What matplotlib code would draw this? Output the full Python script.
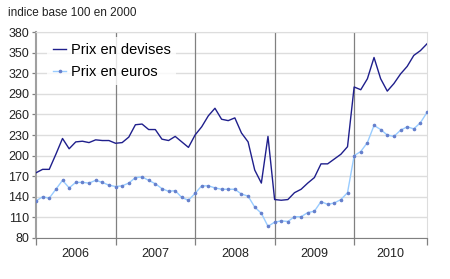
import matplotlib
matplotlib.use("Agg")
import matplotlib.pyplot as plt
import numpy as np

plt.rcParams['font.family'] = ['Liberation Sans', 'DejaVu Sans']

years = ['2006', '2007', '2008', '2009', '2010']
yticks = [80, 110, 140, 170, 200, 230, 260, 290, 320, 350, 380]

# monthly index, Jan 2006 - Dec 2010
devises = [175, 180, 180, 202, 225, 210, 220, 221, 219, 223, 222, 222,
           218, 219, 227, 245, 246, 238, 238, 224, 222, 228, 220, 212,
           230, 242, 258, 269, 253, 251, 255, 233, 220, 179, 160, 228,
           136, 135, 136, 146, 151, 160, 168, 188, 188, 195, 202, 213,
           300, 296, 312, 343, 312, 294, 305, 319, 330, 346, 353, 363]
euros = [134, 140, 138, 151, 164, 153, 161, 161, 160, 164, 161, 157,
         155, 156, 160, 168, 169, 164, 159, 152, 148, 149, 139, 135,
         145, 156, 156, 153, 151, 151, 151, 144, 141, 125, 116, 97,
         103, 105, 104, 111, 111, 117, 119, 133, 129, 131, 136, 146,
         200, 206, 219, 244, 238, 230, 228, 237, 242, 239, 248, 263]

x = np.arange(len(devises))

fig = plt.figure(figsize=(4.5, 2.79), dpi=100)
ax = fig.add_axes([0.08, 0.147, 0.869, 0.738])

ax.set_axisbelow(True)
ax.yaxis.grid(True, color='#dddddd', linewidth=1)
for k in range(1, len(years)):
    ax.axvline(12 * k, color='#808080', linewidth=0.9, zorder=1)

ax.plot(x, devises, color='#1f1f8c', linewidth=1.0, label='Prix en devises', zorder=3)
ax.plot(x, euros, color='#99ccff', linewidth=1.0, marker='o', markersize=1.6,
        markerfacecolor='#6680cc', markeredgecolor='#6680cc',
        label='Prix en euros', zorder=3)

ax.set_xlim(0, len(devises) - 1)
ax.set_ylim(80, 380)
ax.set_yticks(yticks)
ax.set_yticklabels([str(v) for v in yticks], fontsize=9, color='#222222')

ax.set_xticks([12 * k for k in range(len(years))] + [len(devises) - 1])
ax.set_xticklabels([])
ax.tick_params(axis='x', length=5, color='#808080', width=0.9)
ax.tick_params(axis='y', length=3, color='#808080', width=0.9, pad=2)
centers = [6, 18, 30, 42, 53.5]
for c, yr in zip(centers, years):
    ax.text(c, -0.08, yr, transform=ax.get_xaxis_transform(),
            ha='center', va='center', fontsize=9, color='#222222')

for s in ['top', 'right']:
    ax.spines[s].set_color('#dddddd')
ax.spines['left'].set_color('#a0a0a0')
ax.spines['left'].set_linewidth(1.5)
ax.spines['bottom'].set_color('#808080')

leg = ax.legend(loc='upper left', bbox_to_anchor=(0.01, 1.01), fontsize=10.5,
                frameon=True, fancybox=False, edgecolor='white',
                handlelength=0.9, handletextpad=0.3, borderpad=0.4,
                labelspacing=0.55)
leg.get_frame().set_linewidth(0)
leg.set_zorder(4)

fig.text(0.018, 0.955, 'indice base 100 en 2000', fontsize=8.5, color='#222222',
         ha='left', va='center')

fig.savefig('out.png', dpi=100)
